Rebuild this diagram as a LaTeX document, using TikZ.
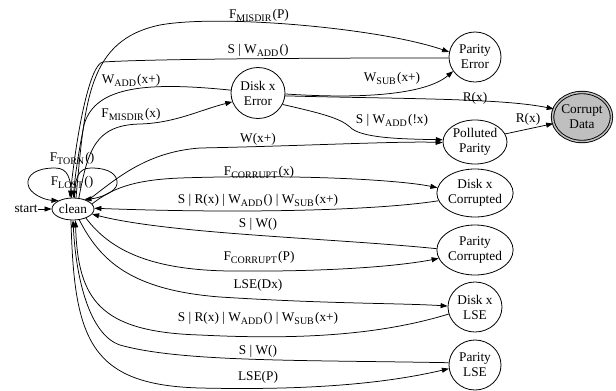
\documentclass[tikz,border=0pt]{standalone}
\usepackage{fontspec}
\setmainfont{Liberation Serif}
\usetikzlibrary{arrows.meta,shapes.geometric}
\newcommand{\sbx}[1]{\raisebox{-0.3em}{\fontsize{10}{10}\selectfont #1}\hspace{1.2pt}}
\begin{document}
\begin{tikzpicture}[x=1pt,y=-1pt,
  font=\fontsize{13.3}{15}\selectfont,
  st/.style={ellipse,draw,line width=0.8pt,inner sep=0pt,align=center},
  lbl/.style={inner sep=0pt,anchor=base},
  ed/.style={line width=0.75pt,-{Triangle[length=7pt,width=5pt]}},
  ]
\useasboundingbox (0,0) rectangle (616,391);
% states
\node[st,minimum width=42,minimum height=22] (clean) at (73,209) {clean};
\node[lbl,anchor=center] (start) at (26,209) {start};
\node[st,minimum width=54,minimum height=51] (derr) at (258,93) {Disk x\\Error};
\node[st,minimum width=52,minimum height=50] (perr) at (475,57) {Parity\\Error};
\node[st,minimum width=64,minimum height=44] (pp) at (475,142) {Polluted\\Parity};
\node[st,minimum width=74,minimum height=48] (dc) at (475,193) {Disk x\\Corrupted};
\node[st,minimum width=74,minimum height=50] (pc) at (475,250) {Parity\\Corrupted};
\node[st,minimum width=54,minimum height=50] (dl) at (475,307) {Disk x\\LSE};
\node[st,minimum width=52,minimum height=50] (pl) at (475,365) {Parity\\LSE};
\node[st,minimum width=59,minimum height=49,fill=gray!50,double=gray!50,double distance=1.5pt,line width=0.9pt] (cd) at (582,117) {Corrupt\\Data};
% start
\draw[ed] (start.east) -- (clean.west);
% self loops
\draw[ed] (clean.97) .. controls (71,178) and (68,168) .. (55,168) .. controls (36,168) and (27,175) .. (28,184) .. controls (29,194) and (45,200) .. (clean.150);
\draw[ed] (clean.83) .. controls (75,178) and (78,168) .. (91,168) .. controls (110,168) and (118,175) .. (117,184) .. controls (116,192) and (100,198) .. (clean.40);
\node[lbl] (lt) at (72,161) {F\sbx{TORN}()};
\node[lbl] (ll) at (72,185) {F\sbx{LOST}()};
% top edges
\draw[ed] (clean.75) .. controls (85,100) and (88,40) .. (160,25) .. controls (220,14) and (380,28) .. (perr.169);
\node[lbl] (l1) at (259,18) {F\sbx{MISDIR}(P)};
\draw[ed] (perr.182) .. controls (300,58) and (150,59) .. (103,62) .. controls (90,64) and (77,130) .. (clean.105);
\node[lbl] (l2) at (258,53) {S | W\sbx{ADD}()};
\draw[ed] (derr.174) .. controls (150,82) and (95,85) .. (84,125) .. controls (79,150) and (75,175) .. (clean.88);
\node[lbl] (l3) at (131,83) {W\sbx{ADD}(x+)};
\draw[ed] (clean.62) .. controls (88,150) and (95,125) .. (140,124) .. controls (175,123) and (200,110) .. (derr.199);
\node[lbl] (l4) at (131,117) {F\sbx{MISDIR}(x)};
\draw[ed] (derr.358) .. controls (360,99) and (425,95) .. (perr.213);
\node[lbl] (l5) at (392,81) {W\sbx{SUB}(x+)};
\draw[ed] (derr.354) .. controls (400,99) and (500,98) .. (cd.164);
\node[lbl] (l6) at (475,101) {R(x)};
\draw[ed] (derr.335) .. controls (320,113) and (340,118) .. (350,127) .. controls (360,138) and (400,139) .. (pp.176);
\node[lbl] (l7) at (392,123) {S | W\sbx{ADD}(!x)};
\draw[ed] (pp.15) -- (cd.193);
\node[lbl] (l8) at (528,122) {R(x)};
% middle edges
\draw[ed] (clean.30) .. controls (115,180) and (145,152) .. (200,148) .. controls (300,146) and (400,141) .. (pp.181);
\node[lbl] (l9) at (258,142) {W(x+)};
\draw[ed] (clean.15) .. controls (110,190) and (130,180) .. (180,178) .. controls (300,174) and (400,180) .. (dc.172);
\node[lbl] (l10) at (259,175) {F\sbx{CORRUPT}(x)};
\draw[ed] (dc.192) .. controls (380,210) and (250,214) .. (clean.2);
\node[lbl] (l11) at (258,203) {S | R(x) | W\sbx{ADD}() | W\sbx{SUB}(x+)};
\draw[ed] (pc.178) .. controls (330,238) and (170,234) .. (clean.345);
\node[lbl] (l12) at (258,227) {S | W()};
\draw[ed] (clean.325) .. controls (110,250) and (150,270) .. (230,271) .. controls (330,272) and (400,266) .. (pc.193);
\node[lbl] (l13) at (259,260) {F\sbx{CORRUPT}(P)};
% bottom edges
\draw[ed] (clean.300) .. controls (100,260) and (130,290) .. (220,297) .. controls (330,304) and (400,303) .. (dl.178);
\node[lbl] (l14) at (258,288) {LSE(Dx)};
\draw[ed] (dl.195) .. controls (380,335) and (300,340) .. (200,335) .. controls (100,332) and (78,300) .. (clean.282);
\node[lbl] (l15) at (258,321) {S | R(x) | W\sbx{ADD}() | W\sbx{SUB}(x+)};
\draw[ed] (pl.175) .. controls (300,360) and (180,362) .. (120,345) .. controls (90,335) and (76,280) .. (clean.270);
\node[lbl] (l16) at (258,354) {S | W()};
\draw[ed] (clean.260) .. controls (74,340) and (90,385) .. (200,388) .. controls (330,391) and (400,380) .. (pl.188);
\node[lbl] (l17) at (258,380) {LSE(P)};
\end{tikzpicture}
\end{document}
